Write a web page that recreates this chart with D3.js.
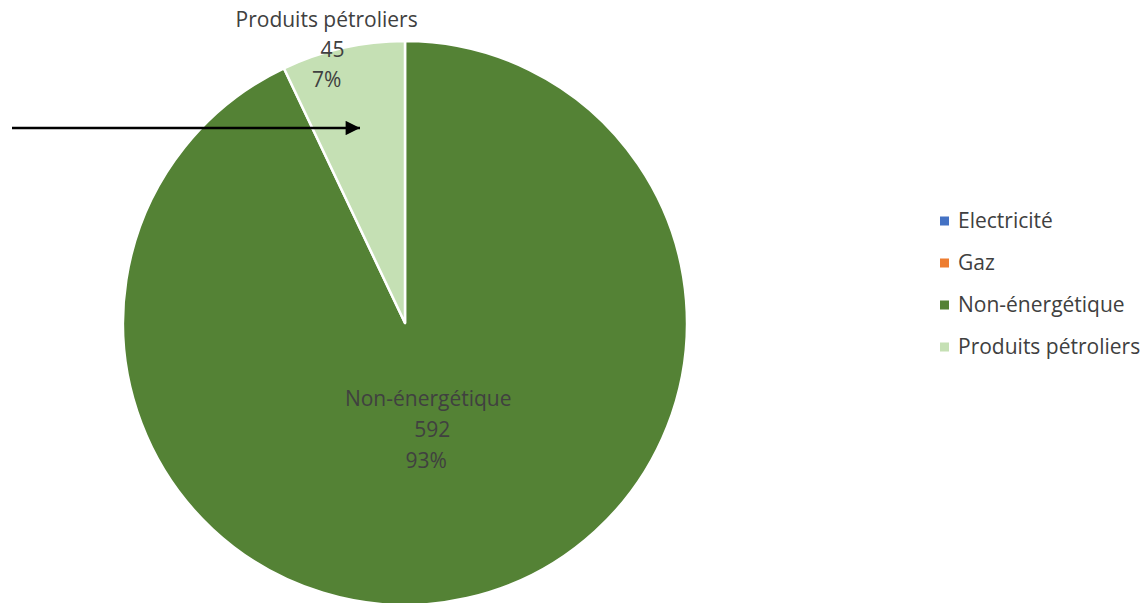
<!DOCTYPE html>
<html>
<head>
<meta charset="utf-8">
<script src="https://cdn.jsdelivr.net/npm/d3@7"></script>
<style>
  html, body { margin: 0; padding: 0; background: #fff; }
  svg { display: block; font-family: "Open Sans", "Noto Sans", sans-serif; }
</style>
</head>
<body>
<svg id="chart" width="1146" height="603"></svg>
<script>
// Consumption by energy type
const categories = ["Electricité", "Gaz", "Non-énergétique", "Produits pétroliers"];
const values = [0, 0, 592, 45];
const colors = ["#4472C4", "#ED7D31", "#548235", "#C5E0B4"];

const svg = d3.select("#chart");
const cx = 405, cy = 323, radius = 282;
const textColor = "#404040";
const fontSize = 21;

const total = d3.sum(values);
const pie = d3.pie().sort(null).value(d => d.value);
const arcs = pie(categories.map((c, i) => ({ name: c, value: values[i], color: colors[i] })));
const arc = d3.arc().innerRadius(0).outerRadius(radius);

const g = svg.append("g").attr("transform", `translate(${cx},${cy})`);

g.selectAll("path.slice")
  .data(arcs.filter(d => d.data.value > 0))
  .join("path")
  .attr("class", "slice")
  .attr("d", arc)
  .attr("fill", d => d.data.color)
  .attr("stroke", "#fff")
  .attr("stroke-width", 2.5)
  .attr("stroke-linejoin", "round");

// Data labels: name, value, percentage
const fmtPct = d => Math.round(d.data.value / total * 100) + "%";
const labelSpec = {
  "Non-énergétique": { r: 110, dx: -1, dy: -1, lh: 31, shift: [0, 4, -2] },
  "Produits pétroliers": { r: 288, dx: -15, dy: 8, lh: 30, shift: [0, 6, 0] }
};
arcs.filter(d => d.data.value > 0).forEach(d => {
  const spec = labelSpec[d.data.name];
  const [x, y] = d3.arc().innerRadius(spec.r).outerRadius(spec.r).centroid(d);
  const lines = [d.data.name, String(d.data.value), fmtPct(d)];
  const t = g.append("text")
    .attr("text-anchor", "middle")
    .attr("fill", textColor)
    .attr("font-size", fontSize);
  lines.forEach((s, i) => {
    t.append("tspan")
      .attr("x", x + spec.dx + spec.shift[i])
      .attr("y", y + spec.dy + (i - 1) * spec.lh)
      .attr("dy", "0.35em")
      .text(s);
  });
});

// Annotation arrow pointing at the petroleum slice
svg.append("defs").append("marker")
  .attr("id", "arrowhead")
  .attr("viewBox", "0 0 10 10")
  .attr("refX", 10).attr("refY", 5)
  .attr("markerWidth", 7).attr("markerHeight", 6)
  .attr("markerUnits", "strokeWidth")
  .attr("orient", "auto")
  .append("path")
  .attr("d", "M0,0 L10,5 L0,10 Z")
  .attr("fill", "#000");

svg.append("line")
  .attr("x1", 12).attr("y1", 128)
  .attr("x2", 360).attr("y2", 128)
  .attr("stroke", "#000")
  .attr("stroke-width", 2.4)
  .attr("marker-end", "url(#arrowhead)");

// Legend
const legend = svg.append("g").attr("transform", "translate(940,221)");
const item = legend.selectAll("g")
  .data(categories)
  .join("g")
  .attr("transform", (d, i) => `translate(0,${i * 42})`);
item.append("rect")
  .attr("x", 0).attr("y", -4.5)
  .attr("width", 9).attr("height", 9)
  .attr("fill", (d, i) => colors[i]);
item.append("text")
  .attr("x", 18).attr("y", 0)
  .attr("dy", "0.35em")
  .attr("fill", textColor)
  .attr("font-size", fontSize)
  .text(d => d);
</script>
</body>
</html>
